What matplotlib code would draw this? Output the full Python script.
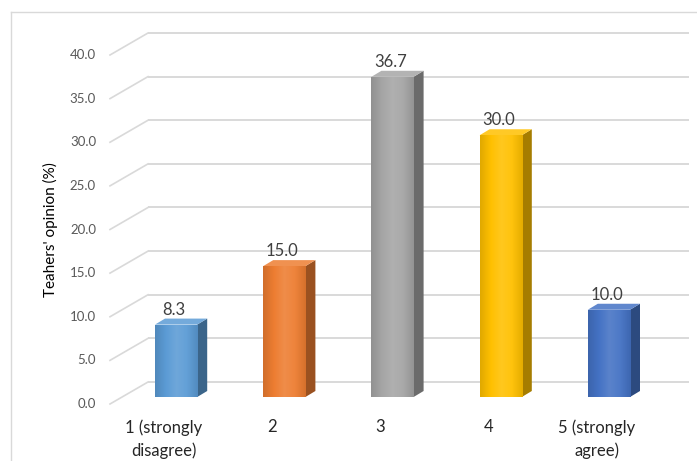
import numpy as np
import matplotlib.pyplot as plt
from matplotlib.patches import Polygon
from matplotlib.lines import Line2D
from matplotlib.colors import to_rgb, LinearSegmentedColormap

plt.rcParams['font.family'] = ['Lato', 'DejaVu Sans']

# data
categories = ["1 (strongly\ndisagree)", "2", "3", "4", "5 (strongly\nagree)"]
values = [8.3, 15.0, 36.7, 30.0, 10.0]
yticks = [0, 5, 10, 15, 20, 25, 30, 35, 40]
bar_colors = ["#5B9BD5", "#ED7D31", "#A5A5A5", "#FFC000", "#4472C4"]

W, H = 697, 461
fig = plt.figure(figsize=(W / 100, H / 100), dpi=100)
ax = fig.add_axes([122 / W, (H - 397) / H, 541 / W, 349 / H])
ax.axis('off')

xlo, xhi, ylo, yhi = -0.5, 4.5, 0, 40
# pixels per data unit, used to turn pixel offsets of the 3d look into data units
px_x = 541 / (xhi - xlo)
px_y = 349 / (yhi - ylo)

def shade(c, f):
    r = np.array(to_rgb(c))
    if f < 1:
        return tuple(r * f)
    return tuple(r + (1 - r) * (f - 1))

# back wall offset and front (label) plane offset, in pixels (right, up)
back_dx, back_dy = 26 / px_x, 15 / px_y
front_dx, front_dy = -12 / px_x, -7 / px_y
grid_col = "#d9d9d9"

for v in yticks:
    # back wall gridline
    ax.plot([xlo + back_dx, xhi + back_dx], [v + back_dy, v + back_dy],
            color=grid_col, lw=1.4, zorder=0, solid_capstyle='butt', clip_on=False)
    # side wall diagonal
    ax.plot([xlo + front_dx, xlo + back_dx], [v + front_dy, v + back_dy],
            color=grid_col, lw=1.2, zorder=0, clip_on=False)
    ax.text(xlo + front_dx - 14 / px_x, v + front_dy, f"{v:.1f}",
            ha='right', va='center', fontsize=9.5, color="#595959")

# bars with a little fake depth
x = np.arange(len(values))
bw = 0.39
dx, dy = 10 / px_x, 6 / px_y
bars = ax.bar(x, values, width=bw, color=bar_colors, zorder=2)

grad = np.linspace(0, 1, 64).reshape(1, -1)
for i, (b, v, c) in enumerate(zip(bars, values, bar_colors)):
    cmap = LinearSegmentedColormap.from_list(
        "g%d" % i, [shade(c, 0.88), shade(c, 1.0), shade(c, 1.12), shade(c, 1.05), shade(c, 0.9)])
    im = ax.imshow(grad, cmap=cmap, extent=[x[i] - bw / 2, x[i] + bw / 2, 0, v],
                   aspect='auto', zorder=3)
    im.set_clip_path(b)
    r = x[i] + bw / 2
    l = x[i] - bw / 2
    side = Polygon([(r, 0), (r + dx, dy), (r + dx, v + dy), (r, v)],
                   closed=True, facecolor=shade(c, 0.65), edgecolor='none', zorder=2)
    top = Polygon([(l, v), (l + dx, v + dy), (r + dx, v + dy), (r, v)],
                  closed=True, facecolor=shade(c, 1.15), edgecolor='none', zorder=2)
    ax.add_patch(side)
    ax.add_patch(top)
    ax.text(x[i] - 2 / px_x, v + 10 / px_y, f"{v:.1f}", ha='center', va='baseline',
            fontsize=12, color="#404040")

for i, lab in enumerate(categories):
    ax.text(x[i] + front_dx, front_dy - 15 / px_y, lab, ha='center', va='top',
            fontsize=12, color="#262626", linespacing=1.52)

ax.set_xlim(xlo, xhi)
ax.set_ylim(ylo, yhi)

fig.text(50 / W, 1 - 230 / H, "Teahers' opinion (%)", rotation=90,
         ha='center', va='center', fontsize=11, color="black")

# chart area border (only top and left show in the crop)
fig.add_artist(Line2D([11 / W, 11 / W], [0, 1 - 12 / H], color=grid_col, lw=1.0))
fig.add_artist(Line2D([11 / W, 1], [1 - 12 / H, 1 - 12 / H], color=grid_col, lw=1.0))

fig.savefig("out.png", dpi=100)
